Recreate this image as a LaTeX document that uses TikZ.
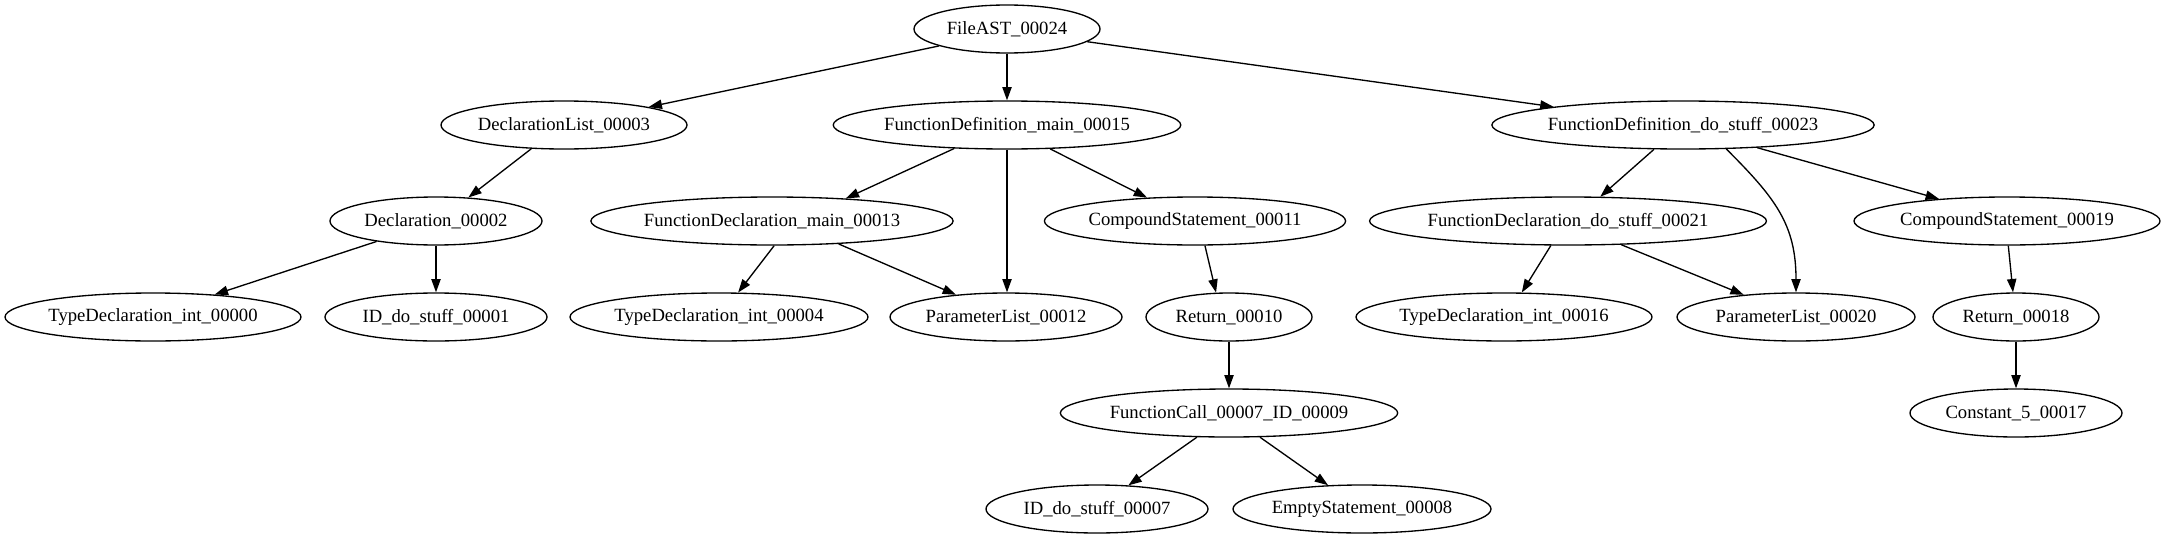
\documentclass[tikz,border=0pt]{standalone}
\usepackage{fontspec}
\setmainfont{Liberation Serif}
\usetikzlibrary{arrows.meta,shapes.geometric}
\begin{document}
\begin{tikzpicture}[x=0.75pt,y=-0.75pt,
  nd/.style={ellipse,draw,line width=1pt,minimum height=36pt,minimum width=#1*1.5pt,inner sep=0pt,font=\fontsize{14}{16}\selectfont},
  edge/.style={line width=1pt,-{Triangle[length=10pt,width=7pt]}}]
\useasboundingbox (0,0) rectangle (2165,539);
% level 0
\node[nd=93]  (fa)    at (1007,29)  {FileAST\_00024};
% level 1
\node[nd=123] (dl)    at (564,125)  {DeclarationList\_00003};
\node[nd=170] (fdm)   at (1007,125) {FunctionDefinition\_main\_00015};
\node[nd=189] (fdd)   at (1683,125) {FunctionDefinition\_do\_stuff\_00023};
% level 2
\node[nd=106] (d2)    at (436,221)  {Declaration\_00002};
\node[nd=157] (fdecm) at (772,221)  {FunctionDeclaration\_main\_00013};
\node[nd=150] (cs11)  at (1195,221) {CompoundStatement\_00011};
\node[nd=196] (fdecd) at (1568,221) {FunctionDeclaration\_do\_stuff\_00021};
\node[nd=153] (cs19)  at (2007,221) {CompoundStatement\_00019};
% level 3
\node[nd=148] (td0)   at (153,317)  {TypeDeclaration\_int\_00000};
\node[nd=111] (id1)   at (436,317)  {ID\_do\_stuff\_00001};
\node[nd=149] (td4)   at (719,317)  {TypeDeclaration\_int\_00004};
\node[nd=116] (pl12)  at (1006,317) {ParameterList\_00012};
\node[nd=83]  (r10)   at (1229,317) {Return\_00010};
\node[nd=148] (td16)  at (1504,317) {TypeDeclaration\_int\_00016};
\node[nd=119] (pl20)  at (1796,317) {ParameterList\_00020};
\node[nd=83]  (r18)   at (2016,317) {Return\_00018};
% level 4
\node[nd=166] (fc)    at (1229,413) {FunctionCall\_00007\_ID\_00009};
\node[nd=106] (c5)    at (2016,413) {Constant\_5\_00017};
% level 5
\node[nd=111] (id7)   at (1097,509) {ID\_do\_stuff\_00007};
\node[nd=129] (es)    at (1362,509) {EmptyStatement\_00008};
% edges
\draw[edge] (fa.194) -- (dl.12);
\draw[edge] (fa.south) -- (fdm.north);
\draw[edge] (fa.-9) -- (fdd.172);
\draw[edge] (dl.216) -- (d2.36);
\draw[edge] (d2.199) -- (td0.20);
\draw[edge] (d2.south) -- (id1.north);
\draw[edge] (fdm.204) -- (fdecm.17);
\draw[edge] (fdm.south) -- (fdm.south |- pl12.north);
\draw[edge] (fdm.-29) -- (cs11.154);
\draw[edge] (fdecm.-85) -- (td4.52);
\draw[edge] (fdecm.-19) -- (pl12.156);
\draw[edge] (cs11.-68) -- (r10.118);
\draw[edge] (r10.south) -- (fc.north);
\draw[edge] (fc.217) -- (id7.37);
\draw[edge] (fc.-38) -- (es.145);
\draw[edge] (fdd.220) -- (fdecd.37);
\draw[edge] (fdd.-29) to[out=-45,in=90,looseness=1.1] (pl20.north);
\draw[edge] (fdd.-17) -- (cs19.162);
\draw[edge] (fdecd.235) -- (td16.54);
\draw[edge] (fdecd.-24) -- (pl20.157);
\draw[edge] (cs19.-87) -- (r18.97);
\draw[edge] (r18.south) -- (c5.north);
\end{tikzpicture}
\end{document}
